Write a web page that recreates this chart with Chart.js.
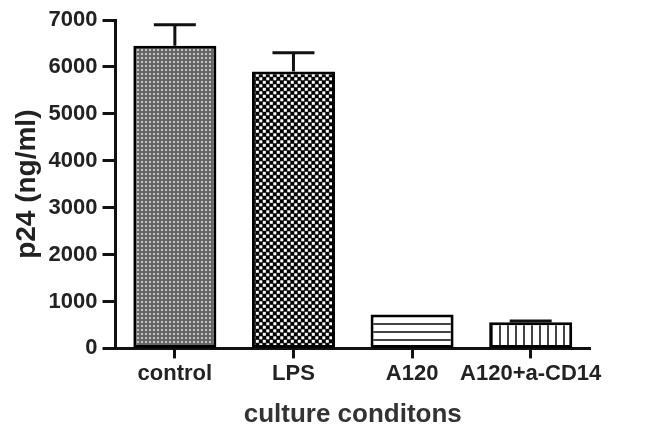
<!DOCTYPE html>
<html>
<head>
<meta charset="utf-8">
<script src="https://cdn.jsdelivr.net/npm/chart.js@4.4.1/dist/chart.umd.min.js"></script>
<style>
  html, body { margin: 0; padding: 0; background: #fff; }
  #wrap { width: 645px; height: 424px; }
</style>
</head>
<body>
<div id="wrap"><canvas id="p24Chart"></canvas></div>
<script>
const categories = ["control", "LPS", "A120", "A120+a-CD14"];
const p24Means = [6450, 5900, 720, 560];
const p24Errors = [450, 400, 0, 25];
const yTicks = [0, 1000, 2000, 3000, 4000, 5000, 6000, 7000];

/* ================= FILL PATTERNS ================= */

function makePattern(size, draw) {
  const c = document.createElement("canvas");
  c.width = size;
  c.height = size;
  const g = c.getContext("2d");
  draw(g, size);
  return g.createPattern(c, "repeat");
}

const ctx = document.getElementById("p24Chart");

const finePattern = makePattern(4, (g) => {
  g.fillStyle = "#666";
  g.fillRect(0, 0, 4, 4);
  g.fillStyle = "#c4c4c4";
  g.fillRect(1, 1, 2, 2);
});

const checkerPattern = makePattern(7, (g) => {
  g.fillStyle = "#000";
  g.fillRect(0, 0, 7, 7);
  g.fillStyle = "#fff";
  g.fillRect(0.3, 0.3, 3, 3);
  g.fillRect(3.8, 3.8, 3, 3);
});

const hLinePattern = makePattern(8, (g) => {
  g.fillStyle = "#fff";
  g.fillRect(0, 0, 8, 8);
  g.fillStyle = "#444";
  g.fillRect(0, 3, 8, 2);
});

const vLinePattern = makePattern(8, (g) => {
  g.fillStyle = "#fff";
  g.fillRect(0, 0, 8, 8);
  g.fillStyle = "#444";
  g.fillRect(3, 0, 2, 8);
});

/* ================= ERROR BARS ================= */

const errorBars = {
  id: "errorBars",
  afterDatasetsDraw(chart) {
    const meta = chart.getDatasetMeta(0);
    const y = chart.scales.y;
    const c = chart.ctx;
    c.save();
    c.strokeStyle = "#111";
    c.lineWidth = 3;
    meta.data.forEach((bar, i) => {
      if (!p24Errors[i]) return;
      const top = y.getPixelForValue(p24Means[i]);
      const hi = y.getPixelForValue(p24Means[i] + p24Errors[i]);
      c.beginPath();
      c.moveTo(bar.x, top);
      c.lineTo(bar.x, hi);
      c.moveTo(bar.x - 21, hi);
      c.lineTo(bar.x + 21, hi);
      c.stroke();
    });
    c.restore();
  }
};

new Chart(ctx, {
  type: "bar",
  data: {
    labels: categories,
    datasets: [{
      data: p24Means,
      backgroundColor: [finePattern, checkerPattern, hLinePattern, vLinePattern],
      borderColor: "#000",
      borderWidth: 3,
      borderSkipped: false,
      barPercentage: 0.7,
      categoryPercentage: 1.0
    }]
  },
  options: {
    responsive: true,
    maintainAspectRatio: false,
    animation: false,
    layout: { padding: { top: 20, right: 55, left: 10, bottom: -6 } },
    plugins: {
      legend: { display: false },
      tooltip: { enabled: false }
    },
    scales: {
      x: {
        grid: {
          offset: false,
          drawOnChartArea: false,
          tickLength: 10,
          tickWidth: 3,
          tickColor: "#111"
        },
        border: { color: "#111", width: 3 },
        ticks: {
          color: "#222",
          padding: 2,
          autoSkip: false,
          maxRotation: 0,
          minRotation: 0,
          font: { family: "Liberation Sans", size: 22, weight: "bold" }
        },
        title: {
          display: true,
          text: "culture conditons",
          color: "#333",
          padding: { top: 10, bottom: 0 },
          font: { family: "Liberation Sans", size: 26, weight: "bold" }
        }
      },
      y: {
        min: 0,
        max: 7000,
        afterBuildTicks: (axis) => {
          axis.ticks = yTicks.map(v => ({ value: v }));
        },
        grid: {
          drawOnChartArea: false,
          tickLength: 13,
          tickWidth: 3,
          tickColor: "#111"
        },
        border: { color: "#111", width: 3 },
        ticks: {
          color: "#222",
          padding: 5,
          callback: (v) => String(v),
          font: { family: "Liberation Sans", size: 22, weight: "bold" }
        },
        title: {
          display: true,
          text: "p24 (ng/ml)",
          color: "#222",
          padding: { top: 0, bottom: 0 },
          font: { family: "Liberation Sans", size: 28, weight: "bold" }
        }
      }
    }
  },
  plugins: [errorBars]
});
</script>
</body>
</html>
